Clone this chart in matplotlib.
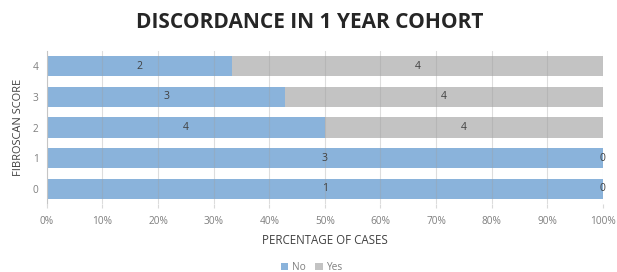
import matplotlib.pyplot as plt
import numpy as np

plt.rcParams['font.family'] = ['Open Sans', 'DejaVu Sans']

scores = ['0', '1', '2', '3', '4']
no_counts = [1, 3, 4, 3, 2]
yes_counts = [0, 0, 4, 4, 4]

no_arr = np.array(no_counts, dtype=float)
yes_arr = np.array(yes_counts, dtype=float)
total = no_arr + yes_arr
no_pct = no_arr / total * 100
yes_pct = yes_arr / total * 100

blue = '#8AB3DB'
grey = '#C3C3C3'
txt = '#404040'
tick_col = '#7F7F7F'

fig = plt.figure(figsize=(6.17, 2.72), dpi=100)
ax = fig.add_axes([0.076, 0.25, 0.901, 0.5625])

y = np.arange(len(scores))
ax.barh(y, no_pct, height=0.66, color=blue, label='No', zorder=1)
ax.barh(y, yes_pct, left=no_pct, height=0.66, color=grey, label='Yes', zorder=1)

for i in range(len(scores)):
    ax.text(no_pct[i] / 2, y[i], str(no_counts[i]), ha='center', va='center',
            fontsize=7.5, color=txt, zorder=3)
    ax.text(no_pct[i] + yes_pct[i] / 2, y[i], str(yes_counts[i]), ha='center',
            va='center', fontsize=7.5, color=txt, zorder=3)

ax.set_xlim(0, 100)
ax.set_ylim(-0.5, 4.5)
ax.set_xticks(np.arange(0, 101, 10))
ax.set_xticklabels([f'{v}%' for v in range(0, 101, 10)])
ax.set_yticks(y)
ax.set_yticklabels(scores)
ax.tick_params(axis='both', labelsize=7.3, colors=tick_col, length=0, pad=6)
ax.tick_params(axis='x', length=3, color='#D9D9D9')
ax.grid(axis='x', color='#A0A0A0', alpha=0.35, linewidth=0.8, zorder=2)
ax.set_axisbelow(False)
for s in ['top', 'right', 'bottom']:
    ax.spines[s].set_visible(False)
ax.spines['left'].set_color('#D9D9D9')

ax.set_xlabel('PERCENTAGE OF CASES', fontsize=8.3, color=txt, labelpad=5)
ax.set_ylabel('FIBROSCAN SCORE', fontsize=8, color=txt, labelpad=6)

fig.text(0.502, 0.917, 'DISCORDANCE IN 1 YEAR COHORT', ha='center', va='center',
         fontsize=15, fontweight='bold', color='#262626')

fig.legend(loc='center', bbox_to_anchor=(0.505, 0.018), ncol=2, frameon=False,
           fontsize=7.3, handlelength=0.7, handleheight=0.7, columnspacing=1.0,
           handletextpad=0.3, labelcolor=tick_col)

fig.savefig('out.png', dpi=100)
